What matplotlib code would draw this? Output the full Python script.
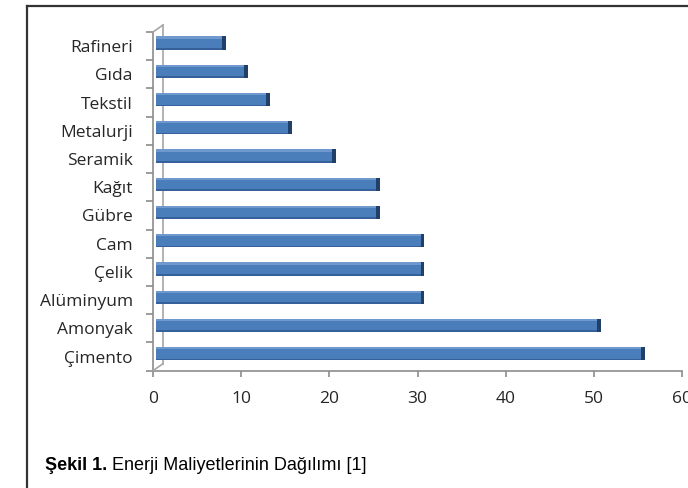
import matplotlib
matplotlib.use("Agg")
import matplotlib.pyplot as plt
from matplotlib.transforms import offset_copy
from matplotlib.lines import Line2D
from matplotlib.patches import ConnectionPatch

plt.rcParams['font.family'] = ['Open Sans', 'DejaVu Sans']

categories = ['Çimento', 'Amonyak', 'Alüminyum', 'Çelik', 'Cam', 'Gübre',
              'Kağıt', 'Seramik', 'Metalurji', 'Tekstil', 'Gıda', 'Rafineri']
values = [55, 50, 30, 30, 30, 25, 25, 20, 15, 12.5, 10, 7.5]
xticks = [0, 10, 20, 30, 40, 50, 60]
caption_bold = 'Şekil 1.'
caption_rest = ' Enerji Maliyetlerinin Dağılımı [1]'

W, H = 688, 488
fig = plt.figure(figsize=(W / 100, H / 100), dpi=100)
fig.patch.set_facecolor('white')

x0, x1 = 153, 682
ybot, ytop = 370.7, 32
ax = fig.add_axes([x0 / W, (H - ybot) / H, (x1 - x0) / W, (ybot - ytop) / H])
ax.set_facecolor('none')

ypos = list(range(len(categories)))
h = 0.47
face = '#4a7ebb'
light = '#6f98cc'
darkedge = '#35609a'
cap = '#203f69'

tr_bar = offset_copy(ax.transData, fig=fig, x=3, y=3, units='dots')
ax.barh(ypos, values, height=h, left=0, color=face, transform=tr_bar, zorder=3)
# top lighter bevel
ax.barh([y + h / 2 - 0.04 for y in ypos], values, height=0.08, left=0,
        color=light, transform=tr_bar, zorder=4)
# bottom darker edge
ax.barh([y - h / 2 + 0.03 for y in ypos], values, height=0.06, left=0,
        color=darkedge, transform=tr_bar, zorder=4)
# right end cap (3D depth side)
ax.barh(ypos, [0.45] * len(values), height=h, left=values, color=cap,
        transform=tr_bar, zorder=5)

ax.set_xlim(0, 60)
ax.set_ylim(-0.5, len(categories) - 0.5)
ax.set_xticks(xticks)
ax.set_xticklabels([str(t) for t in xticks])
ax.set_yticks(ypos)
ax.set_yticklabels(categories)
ax.set_yticks([y - 0.5 for y in ypos] + [len(categories) - 0.5], minor=True)

gray = '#8c8c8c'
for s in ['top', 'right']:
    ax.spines[s].set_visible(False)
ax.spines['left'].set_color(gray)
ax.spines['bottom'].set_color(gray)
ax.spines['left'].set_linewidth(1.2)
ax.spines['bottom'].set_linewidth(1.2)

ax.tick_params(axis='y', which='major', length=0, pad=14.5, labelsize=12.5,
               labelcolor='#262626')
ax.tick_params(axis='y', which='minor', length=5, width=1.2, color=gray,
               direction='out')
ax.tick_params(axis='x', which='major', length=4, width=1.2, color=gray,
               direction='out', pad=10.5, labelsize=12.5, labelcolor='#262626')

# 3D back wall line and diagonals
tr_back = offset_copy(ax.transAxes, fig=fig, x=10, y=7, units='dots')
ax.add_line(Line2D([0, 0], [0, 1], transform=tr_back, color='#a6a6a6',
                   lw=1.2, zorder=1, clip_on=False))
for yy in (0, 1):
    cp = ConnectionPatch(xyA=(0, yy), coordsA=ax.transAxes,
                         xyB=(0, yy), coordsB=tr_back,
                         color='#a6a6a6', lw=1.2)
    fig.add_artist(cp)

# outer frame lines
fig.add_artist(Line2D([27 / W, 27 / W], [0, 1 - 6 / H], transform=fig.transFigure,
                      color='#333333', lw=1.6))
fig.add_artist(Line2D([27 / W, 1], [1 - 6 / H, 1 - 6 / H], transform=fig.transFigure,
                      color='#333333', lw=1.6))

# caption
t = fig.text(45 / W, 1 - 469.5 / H, caption_bold, fontweight='bold',
             family=['Liberation Sans', 'DejaVu Sans'], fontsize=13,
             va='baseline', ha='left', color='black')
ax.annotate(caption_rest, xy=(1, 0), xycoords=t, va='bottom', ha='left',
            family=['Liberation Sans', 'DejaVu Sans'], fontsize=13,
            color='black', annotation_clip=False)

fig.savefig('out.png', dpi=100, facecolor='white')
